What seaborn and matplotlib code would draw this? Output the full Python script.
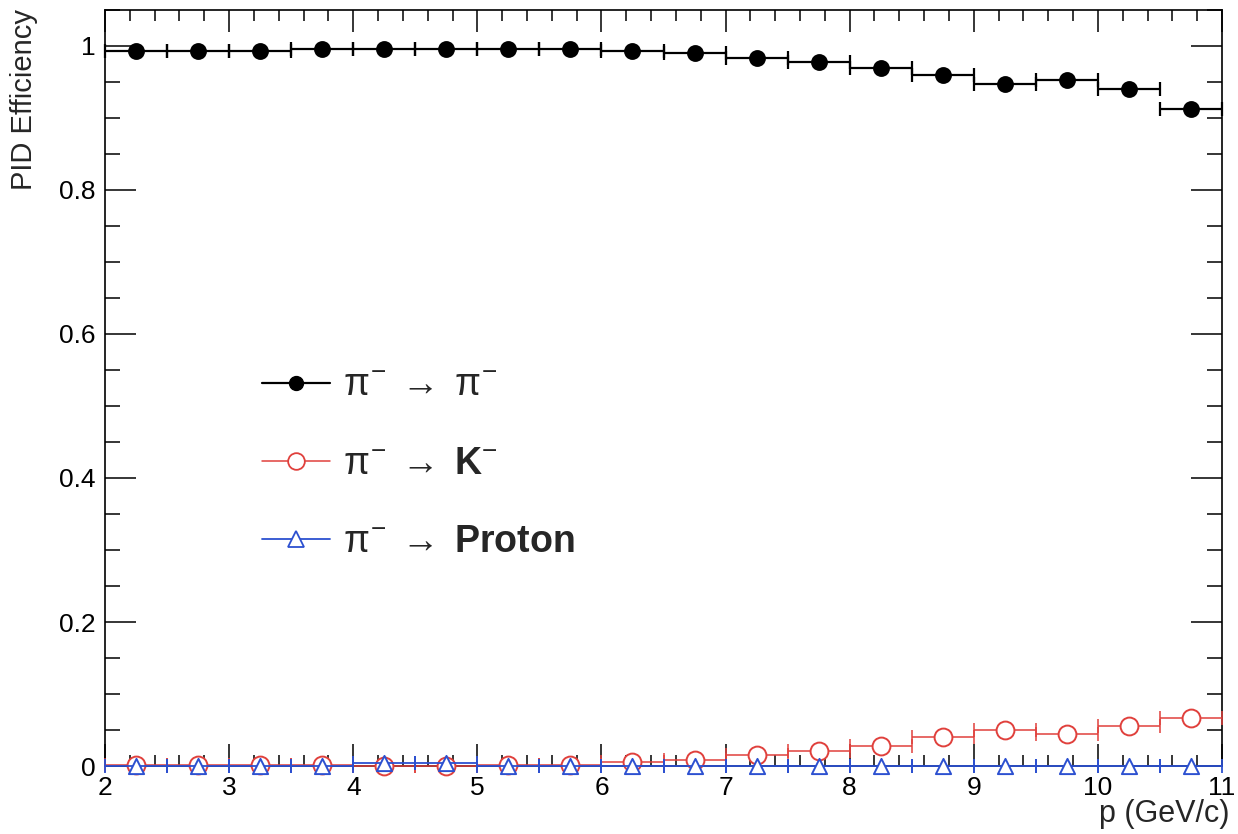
import numpy as np
import pandas as pd
import matplotlib
matplotlib.use("Agg")
import matplotlib.pyplot as plt
import seaborn as sns
from matplotlib.lines import Line2D
from matplotlib.ticker import MultipleLocator

# ---- data ----
p_centers = [2.25, 2.75, 3.25, 3.75, 4.25, 4.75, 5.25, 5.75, 6.25,
             6.75, 7.25, 7.75, 8.25, 8.75, 9.25, 9.75, 10.25, 10.75]
bin_half_width = 0.25
eff_pi_pi = [0.993, 0.993, 0.993, 0.996, 0.996, 0.996, 0.996, 0.996, 0.993,
             0.990, 0.984, 0.978, 0.970, 0.960, 0.947, 0.953, 0.940, 0.912]
eff_pi_k = [0.001, 0.001, 0.001, 0.001, 0.000, 0.000, 0.001, 0.002, 0.005,
            0.008, 0.015, 0.021, 0.028, 0.040, 0.050, 0.045, 0.056, 0.067]
eff_pi_p = [0.000, 0.000, 0.000, 0.000, 0.004, 0.004, 0.000, 0.000, 0.000,
            0.000, 0.000, 0.000, 0.000, 0.000, 0.000, 0.000, 0.000, 0.000]
x_ticks = [2, 3, 4, 5, 6, 7, 8, 9, 10, 11]
y_ticks = [0, 0.2, 0.4, 0.6, 0.8, 1.0]
y_tick_labels = ["0", "0.2", "0.4", "0.6", "0.8", "1"]
legend_labels = [r"$\pi^{-}\;\rightarrow\;\pi^{-}$",
                 r"$\pi^{-}\;\rightarrow\;\mathbf{K}^{-}$",
                 r"$\pi^{-}\;\rightarrow\;$Proton"]

sns.set_theme(style="ticks")
plt.rcParams["font.family"] = ["Liberation Sans", "DejaVu Sans"]
plt.rcParams["mathtext.fontset"] = "custom"
plt.rcParams["mathtext.rm"] = "Liberation Sans"
plt.rcParams["mathtext.it"] = "Liberation Sans"
plt.rcParams["mathtext.bf"] = "Liberation Sans:bold"

fig = plt.figure(figsize=(12.38, 8.34), dpi=100)
fig.patch.set_facecolor("white")
ax = fig.add_axes([105 / 1238, 1 - 766 / 834, (1222 - 105) / 1238, (766 - 10) / 834])
ax.set_facecolor("white")

black = "#000000"
red = "#e0403c"
blue = "#2c50d0"

series = [
    (eff_pi_pi, black, "o", black, 115, 1.6, 10),
    (eff_pi_k, red, "o", "white", 165, 1.1, 20),
    (eff_pi_p, blue, "^", "white", 120, 1.3, 30),
]

for vals, col, mk, fc, size, lw, z in series:
    df = pd.DataFrame({"p": p_centers, "eff": vals})
    ax.errorbar(df["p"], df["eff"], xerr=bin_half_width, fmt="none",
                ecolor=col, elinewidth=lw, capsize=5, capthick=lw,
                zorder=z, clip_on=False)
    sns.scatterplot(data=df, x="p", y="eff", ax=ax, marker=mk, s=size,
                    color=fc, edgecolor=col, linewidth=1.4,
                    zorder=z + 1, clip_on=False, legend=False)

ax.set_xlim(2, 11)
ax.set_ylim(0, 1.05)
ax.set_xticks(x_ticks)
ax.set_xticklabels([str(t) for t in x_ticks])
ax.set_yticks(y_ticks)
ax.set_yticklabels(y_tick_labels)
ax.xaxis.set_minor_locator(MultipleLocator(0.2))
ax.yaxis.set_minor_locator(MultipleLocator(0.05))
ax.tick_params(axis="both", which="both", direction="in", top=True, right=True,
               width=1.1, colors="black", labelsize=19)
ax.tick_params(axis="x", which="major", length=16, pad=7)
ax.tick_params(axis="x", which="minor", length=8)
ax.tick_params(axis="y", which="major", length=22, pad=7)
ax.tick_params(axis="y", which="minor", length=11)
for sp in ax.spines.values():
    sp.set_linewidth(1.2)
    sp.set_color("black")
    sp.set_visible(True)

ax.set_xlabel("p (GeV/c)", fontsize=22, loc="right")
ax.xaxis.set_label_coords(1.007, -0.043)
ax.set_ylabel("")
fig.text(24 / 1238, 1 - 9 / 834, "PID Efficiency", rotation=90,
         ha="center", va="top", fontsize=21)

handles = [
    Line2D([0], [0], color=black, lw=1.6, marker="o", markersize=10,
           markerfacecolor=black, markeredgecolor=black),
    Line2D([0], [0], color=red, lw=1.1, marker="o", markersize=12,
           markerfacecolor="white", markeredgecolor=red, markeredgewidth=1.3),
    Line2D([0], [0], color=blue, lw=1.3, marker="^", markersize=11,
           markerfacecolor="white", markeredgecolor=blue, markeredgewidth=1.3),
]
ax.legend(handles=handles, labels=legend_labels, loc="upper left",
          bbox_to_anchor=(262 / 1238, 1 - 368 / 834),
          bbox_transform=fig.transFigure, frameon=False, borderpad=0,
          borderaxespad=0, handlelength=1.8, handletextpad=0.35,
          labelspacing=1.12, prop={"size": 27, "weight": "bold"})

fig.savefig("out.png", dpi=100, facecolor="white")
